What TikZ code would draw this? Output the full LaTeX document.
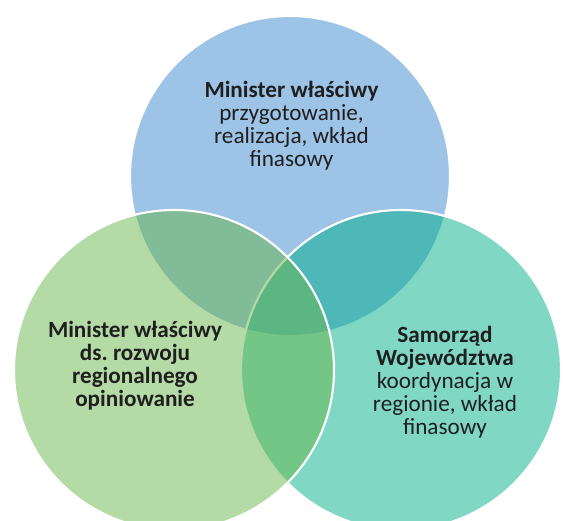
\documentclass[tikz,border=0pt]{standalone}
\usepackage{fontspec}
\setmainfont{Carlito}
\definecolor{sectblue}{RGB}{59,135,205}
\definecolor{reggreen}{RGB}{105,181,75}
\definecolor{voivteal}{RGB}{0,175,138}
\begin{document}
\begin{tikzpicture}[
    ring/.style={circle,minimum size=6.4cm,inner sep=0pt,draw=white,line width=1.2pt,fill opacity=0.5},
    venntext/.style={align=center,text=black!88,font=\fontsize{13.2}{13.1}\selectfont}
    ]
        \clip (0,0) rectangle (11.3,-10.4);
        \node[ring,fill=sectblue] at (5.8,-3.52) (minister){};
        \node[ring,fill=voivteal] at (8.02,-7.4) (samorzad){};
        \node[ring,fill=reggreen] at (3.48,-7.4) (regional){};
        
        \node[venntext] at (5.83,-2.52) (ministertext){\textbf{Minister właściwy}\\przygotowanie,\\realizacja, wkład\\finasowy};
        \node[venntext,font=\fontsize{13.2}{13.1}\selectfont\bfseries] at (2.7,-7.32) (regionaltext){Minister właściwy\\ds.\ rozwoju\\regionalnego\\opiniowanie};
        \node[venntext] at (8.9,-7.64) (samorzadtext){\textbf{Samorząd}\\\textbf{Województwa}\\koordynacja w\\regionie, wkład\\finasowy};
\end{tikzpicture}
\end{document}
